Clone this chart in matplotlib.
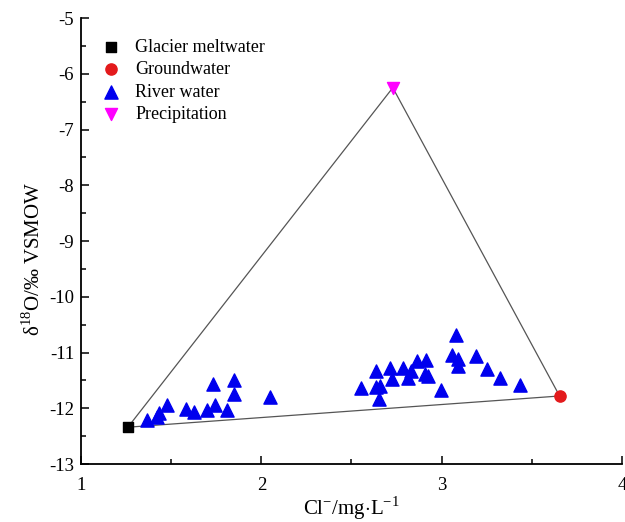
import matplotlib
matplotlib.use("Agg")
import matplotlib.pyplot as plt
from matplotlib.ticker import MultipleLocator

plt.rcParams['font.family'] = ['Liberation Serif', 'DejaVu Serif']
plt.rcParams['mathtext.fontset'] = 'custom'
plt.rcParams['mathtext.rm'] = 'Liberation Serif'
plt.rcParams['axes.unicode_minus'] = False

# End-member compositions (Cl- in mg/L, d18O in permil)
glacier_cl = [1.26]
glacier_d18o = [-12.34]
ground_cl = [3.654]
ground_d18o = [-11.78]
precip_cl = [2.729]
precip_d18o = [-6.25]

# River water samples
river_cl = [1.364, 1.423, 1.434, 1.475, 1.582, 1.626, 1.700, 1.742, 1.733, 1.807,
            1.848, 1.848, 2.047,
            2.555, 2.634, 2.638, 2.657, 2.653, 2.716, 2.727, 2.786, 2.814, 2.832,
            2.863, 2.911, 2.906, 2.924, 2.998, 3.078, 3.059, 3.090, 3.090, 3.188,
            3.251, 3.321, 3.432]
river_d18o = [-12.21, -12.15, -12.09, -11.94, -12.02, -12.06, -12.03, -11.95, -11.57, -12.04,
              -11.49, -11.74, -11.80,
              -11.64, -11.34, -11.62, -11.60, -11.84, -11.27, -11.48, -11.28, -11.46, -11.34,
              -11.15, -11.13, -11.39, -11.42, -11.67, -10.69, -11.04, -11.12, -11.24, -11.06,
              -11.30, -11.46, -11.58]

fig = plt.figure(figsize=(6.25, 5.22), dpi=100)
ax = fig.add_axes([0.1296, 0.1111, 0.8656, 0.8544])

# Mixing triangle between the three end-members
tri_x = [glacier_cl[0], precip_cl[0], ground_cl[0], glacier_cl[0]]
tri_y = [glacier_d18o[0], precip_d18o[0], ground_d18o[0], glacier_d18o[0]]
ax.plot(tri_x, tri_y, color='#555555', lw=0.9, zorder=1)

ax.scatter(glacier_cl, glacier_d18o, marker='s', s=55, color='black',
           label='Glacier meltwater', zorder=3)
ax.scatter(ground_cl, ground_d18o, marker='o', s=65, color='#e31a1c',
           label='Groundwater', zorder=3)
ax.scatter(river_cl, river_d18o, marker='^', s=90, color='#0000ee',
           label='River water', zorder=3)
ax.scatter(precip_cl, precip_d18o, marker='v', s=75, color='#ff00ff',
           label='Precipitation', zorder=3)

ax.set_xlim(1, 4)
ax.set_ylim(-13, -5)
ax.xaxis.set_major_locator(MultipleLocator(1))
ax.xaxis.set_minor_locator(MultipleLocator(0.5))
ax.yaxis.set_major_locator(MultipleLocator(1))
ax.yaxis.set_minor_locator(MultipleLocator(0.5))
ax.tick_params(which='both', direction='in', labelsize=13.5, width=1.1)
ax.tick_params(which='major', length=6)
ax.tick_params(which='minor', length=3.5)
ax.tick_params(axis='x', pad=9)
ax.tick_params(axis='y', pad=5)
ax.spines['top'].set_visible(False)
ax.spines['right'].set_visible(False)
ax.spines['left'].set_linewidth(1.3)
ax.spines['bottom'].set_linewidth(1.3)

ax.set_xlabel(r'Cl$^{\mathregular{-}}$/mg$\cdot$L$^{\mathregular{-1}}$', fontsize=15, labelpad=1)
ax.set_ylabel(r'δ$^{\mathregular{18}}$O/‰ VSMOW', fontsize=15)
ax.yaxis.set_label_coords(-0.066, 0.46)

ax.legend(loc='upper left', bbox_to_anchor=(0.0, 0.99), frameon=False,
          fontsize=13, handletextpad=0.6, labelspacing=0.3, handlelength=1.5,
          scatterpoints=1)

fig.savefig('out.png', dpi=100)
